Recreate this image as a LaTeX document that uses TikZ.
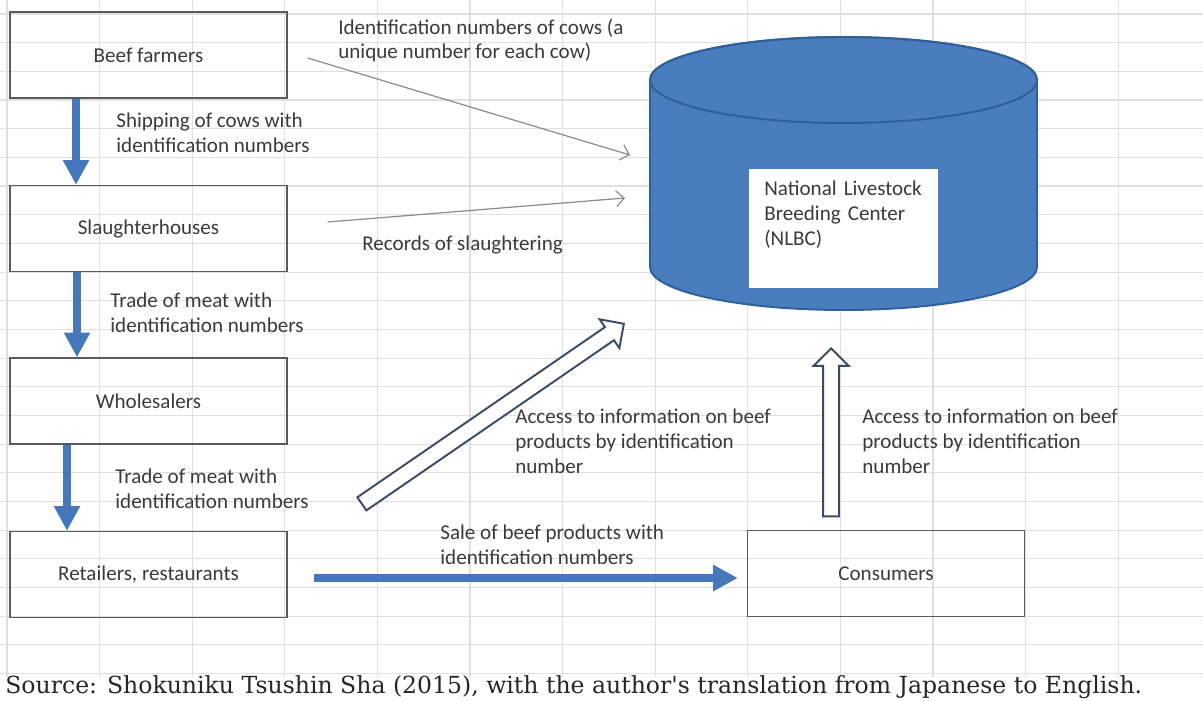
\documentclass[tikz,border=0pt]{standalone}
\usepackage{fontspec}
\setmainfont{Carlito}
\newfontfamily\srcfont{DejaVu Serif}
\usepackage{tikz}
\usetikzlibrary{arrows.meta,shapes.arrows}
\definecolor{gridgray}{HTML}{DFDFDF}
\definecolor{boxline}{HTML}{5A5A5A}
\definecolor{txtgray}{HTML}{3A3A3A}
\definecolor{flowblue}{HTML}{4577BA}
\definecolor{dbfill}{HTML}{4A7DBE}
\definecolor{dbline}{HTML}{30609A}
\definecolor{thingray}{HTML}{8C8C8C}
\definecolor{hollowline}{HTML}{3A4A64}

\begin{document}
\begin{tikzpicture}[x=0.02cm, y=0.02cm,
  font=\fontsize{12}{14.2}\selectfont,
  box/.style={draw=boxline, line width=0.8pt, minimum width=5.54cm, minimum height=1.72cm, text=txtgray},
  lbl/.style={anchor=west, align=left, inner sep=0pt, text=txtgray},
  flow/.style={draw=flowblue, line width=4.8pt, -{Triangle[length=14pt,width=14pt]}},
  info/.style={draw=thingray, line width=0.7pt, -{Straight Barb[length=4.5pt,width=9pt]}},
  hollow/.style={single arrow, draw=hollowline, fill=white, line width=1.1pt, inner xsep=0pt,
    inner ysep=0.14cm, single arrow head extend=0.19cm, anchor=tip}]
  \useasboundingbox (0,0) rectangle (1203,-700);
  % spreadsheet grid
  \foreach \i in {0,...,13}
    \draw[gridgray, line width=0.6pt] ({7+92.6*\i},0) -- ({7+92.6*\i},-677);
  \foreach \j in {0,...,23}
    \draw[gridgray, line width=0.6pt] (0,{-14-28.67*\j}) -- (1203,{-14-28.67*\j});
  % database
  \filldraw[fill=dbfill, draw=dbline, line width=1.1pt]
    (650,-80) -- (650,-267) arc[start angle=180, end angle=360, x radius=193.5, y radius=43]
    -- (1037,-80) arc[start angle=0, end angle=180, x radius=193.5, y radius=43] -- cycle;
  \draw[dbline, line width=1.1pt] (843.5,-80) ellipse[x radius=193.5, y radius=43];
  \node[fill=white, anchor=north west, text width=3.18cm, align=left, inner xsep=0.3cm, inner ysep=0pt,
    text height=0.52cm, text depth=1.86cm, text=txtgray] (NL) at (749,-169)
    {National Livestock\\Breeding Center\\(NLBC)};
  % chain
  \node[box] (BF) at (148.5,-55) {Beef farmers};
  \node[box] (SH) at (148.5,-228.5) {Slaughterhouses};
  \node[box] (WS) at (148.5,-401) {Wholesalers};
  \node[box] (RR) at (148.5,-574.5) {Retailers, restaurants};
  \node[box] (CO) at (886,-573.5) {Consumers};
  \draw[flow] ([shift={(-72.5,0)}]BF.south) -- ([shift={(-72.5,0)}]SH.north);
  \draw[flow] ([shift={(-71.5,0)}]SH.south) -- ([shift={(-71.5,0)}]WS.north);
  \draw[flow] ([shift={(-81.5,0)}]WS.south) -- ([shift={(-81.5,0)}]RR.north);
  \draw[flow] ([shift={(26,-3.5)}]RR.east) -- ([shift={(-9,-4.5)}]CO.west);
  % records
  \coordinate (T1) at (630,-155);
  \coordinate (T2) at (625,-198);
  \draw[info] ([shift={(20,-3)}]BF.east) -- (T1);
  \draw[info] ([shift={(40,6.5)}]SH.east) -- (T2);
  % access
  \node[hollow, rotate=34.5, minimum height=6.36cm] (AC1) at (625,-323) {};
  \node[hollow, rotate=90, minimum height=3.36cm] (AC2) at (831,-347) {};
  % labels
  \node[lbl] (LA) at (116,-132.5) {Shipping of cows with\\identification numbers};
  \node[lbl] (LB) at (110,-313) {Trade of meat with\\identification numbers};
  \node[lbl] (LC) at (115,-488.5) {Trade of meat with\\identification numbers};
  \node[lbl] (LD) at (440,-544.5) {Sale of beef products with\\identification numbers};
  \node[lbl] (LE) at (515,-441) {Access to information on beef\\products by identification\\number};
  \node[lbl] (LF) at (862,-441) {Access to information on beef\\products by identification\\number};
  \node[lbl] (LG) at (338,-40.5) {Identification numbers of cows (a\\unique number for each cow)};
  \node[lbl] (LH) at (362,-245) {Records of slaughtering};
  \node[lbl, anchor=base west, font=\srcfont\fontsize{13.4}{16}\selectfont, text=black!85] (SRC) at (5,-693)
    {Source: Shokuniku Tsushin Sha (2015), with the author's translation from Japanese to English.};
\end{tikzpicture}
\end{document}
